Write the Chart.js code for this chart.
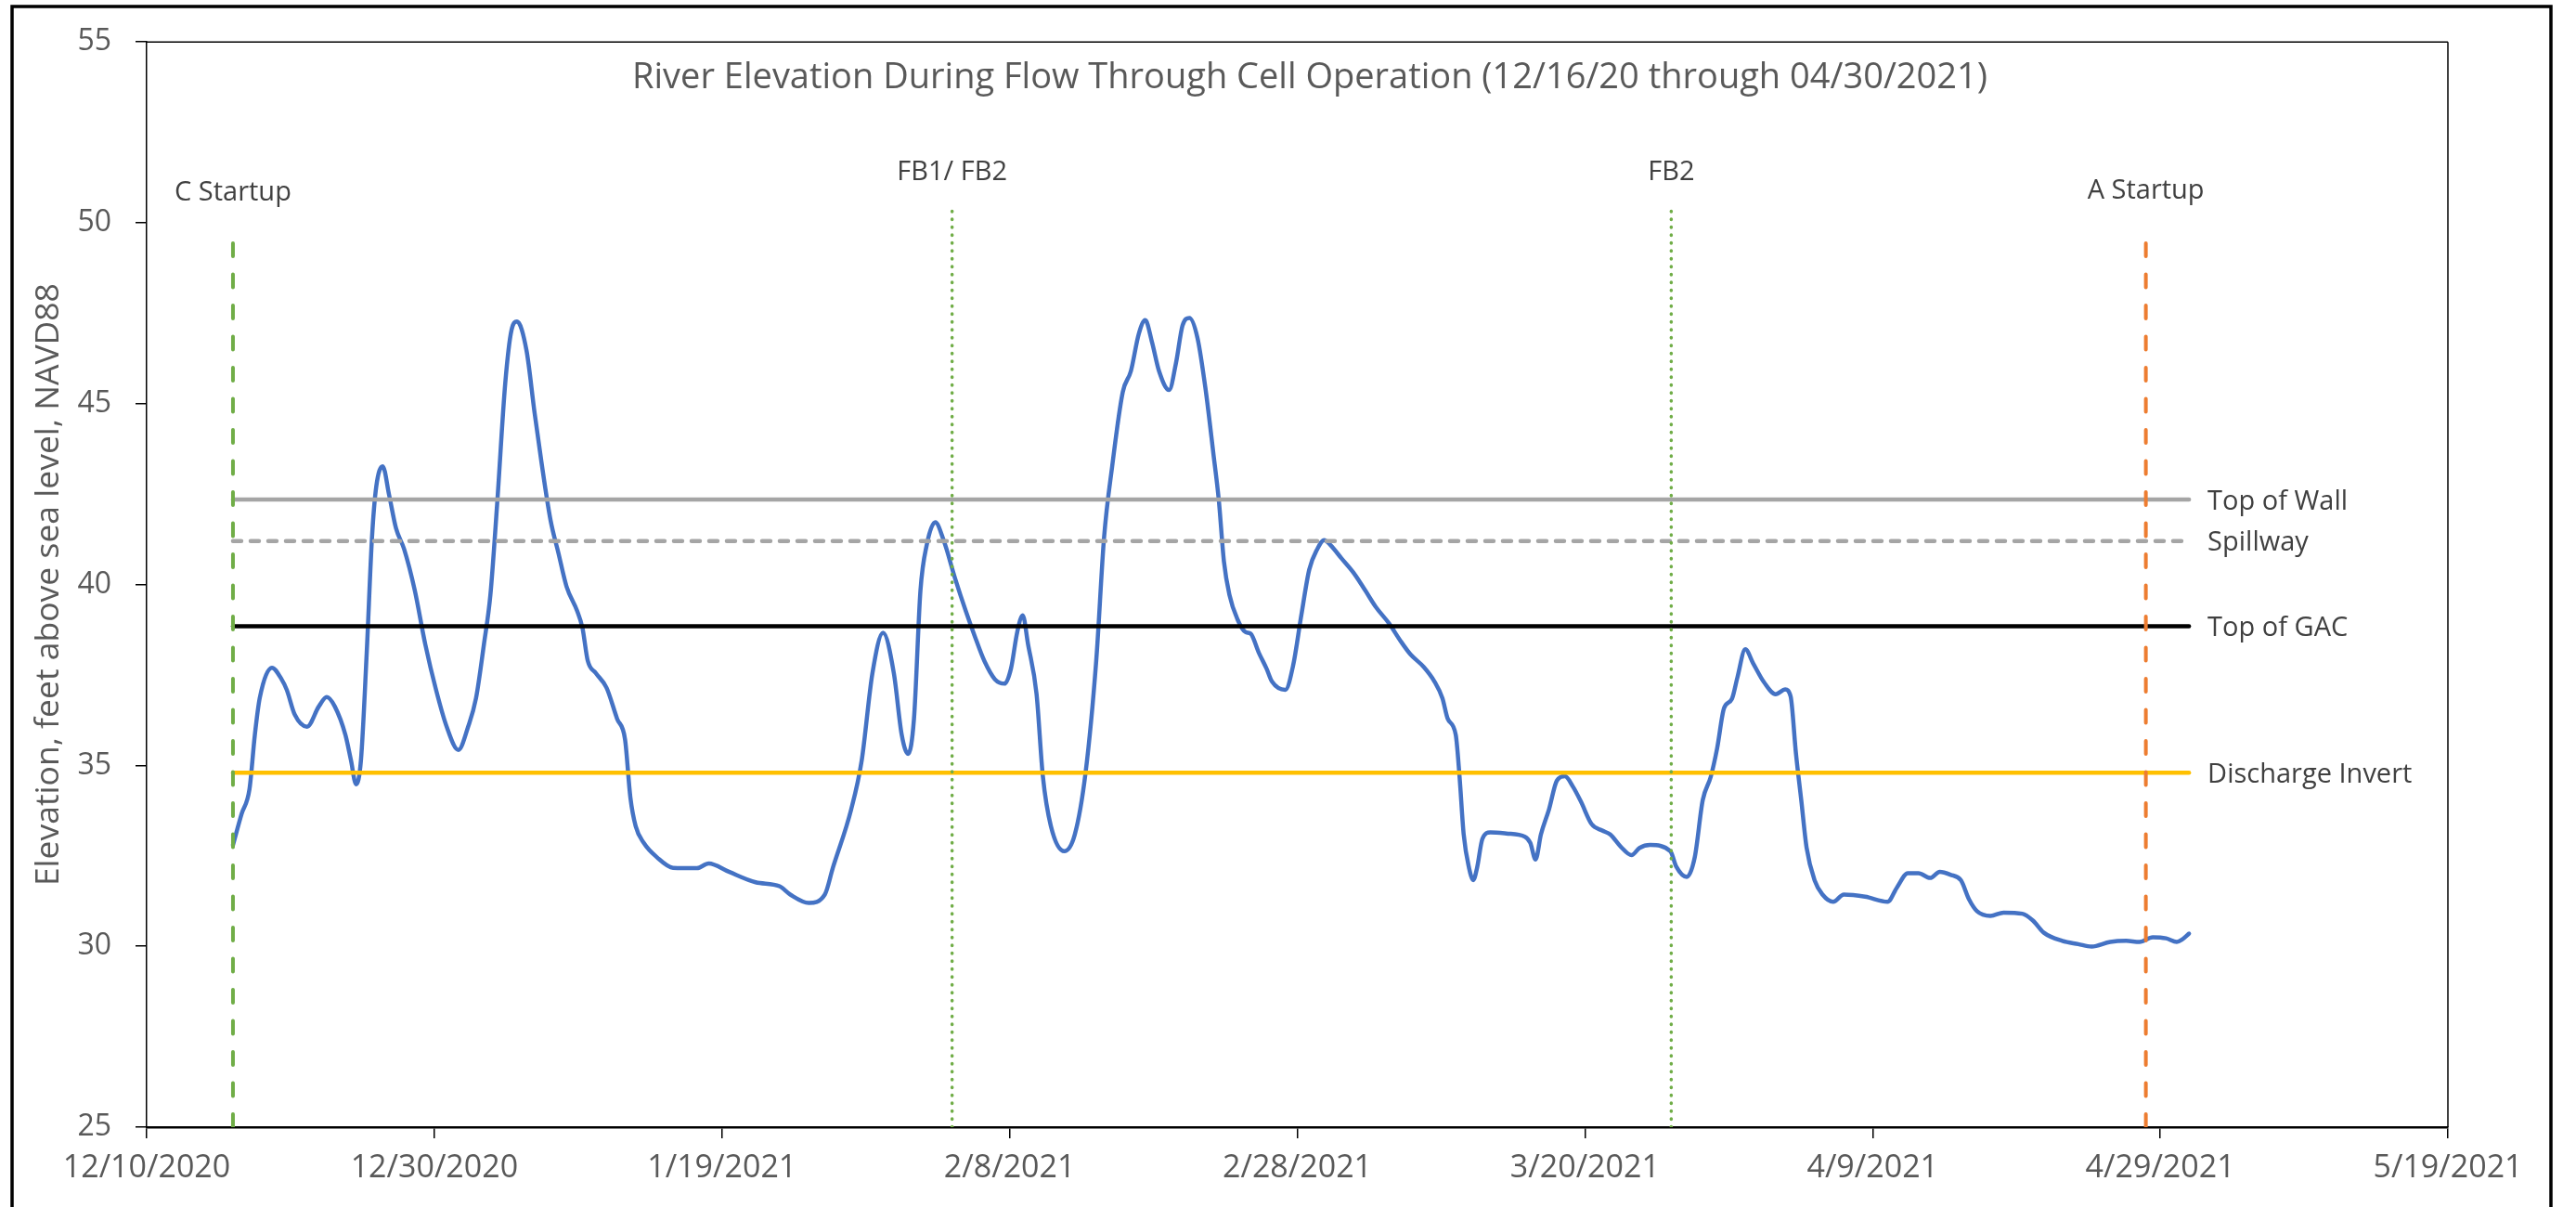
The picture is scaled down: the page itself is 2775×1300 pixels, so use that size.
<!DOCTYPE html>
<html>
<head>
<meta charset="utf-8">
<title>River Elevation During Flow Through Cell Operation</title>
<script src="https://cdn.jsdelivr.net/npm/chart.js@4.4.1/dist/chart.umd.min.js"></script>
<style>
  html, body { margin: 0; padding: 0; background: #fff; }
  #wrap { width: 2775px; height: 1300px; }
</style>
</head>
<body>
<div id="wrap"><canvas id="riverChart" width="2775" height="1300"></canvas></div>
<script>
// day offsets are counted from 12/10/2020 (the first x tick)
const dayOffsets = [
    6.0, 6.6, 7.15, 7.52, 7.86, 8.71, 9.38, 9.74, 10.3, 11.15, 11.97, 12.52, 13.08, 13.82, 14.2, 14.56, 14.9,
    15.3, 15.67, 15.96, 16.41, 16.86, 17.34, 17.9, 18.64, 19.37, 20.12, 20.86, 21.67, 22.35, 22.9, 23.45, 23.9,
    24.37, 24.93, 25.37, 25.75, 26.41, 26.97, 27.45, 28.08, 28.63, 29.19, 29.93, 30.3, 30.67, 31.23, 31.97,
    32.71, 33.26, 33.63, 34.0, 34.56, 35.48, 36.6, 38.26, 39.08, 40.48, 42.34, 44.0, 44.75, 46.04, 47.15, 47.71,
    48.98, 49.72, 50.46, 51.2, 51.95, 52.5, 52.94, 53.35, 53.8, 54.24, 54.83, 55.43, 56.2, 56.95, 57.57, 58.24,
    58.98, 59.65, 60.09, 60.53, 60.91, 61.28, 61.87, 62.31, 62.87, 63.8, 64.53, 65.28, 66.02, 66.57, 67.13,
    67.87, 68.43, 68.98, 69.43, 69.9, 70.39, 71.09, 71.57, 72.02, 72.5, 73.06, 73.61, 74.17, 74.54, 74.9, 75.28,
    75.84, 76.39, 76.76, 77.32, 77.87, 78.24, 79.17, 79.72, 80.28, 80.83, 81.39, 81.87, 82.31, 83.06, 83.98,
    84.72, 85.46, 86.39, 87.13, 87.87, 88.8, 89.54, 90.09, 90.46, 91.02, 91.28, 91.57, 91.94, 92.24, 92.5,
    92.87, 93.42, 94.54, 95.83, 96.2, 96.57, 96.94, 97.5, 98.05, 98.61, 99.17, 99.72, 100.46, 101.2, 101.76,
    102.5, 103.24, 103.8, 104.54, 105.94, 106.34, 107.08, 107.64, 108.19, 108.75, 109.19, 109.67, 110.22,
    110.6, 111.15, 111.7, 112.45, 113.26, 113.93, 114.3, 114.67, 115.04, 115.41, 115.97, 116.52, 117.26, 118.0,
    119.48, 121.04, 121.7, 122.45, 123.19, 124.0, 124.67, 125.41, 126.15, 126.7, 127.26, 128.19, 129.11,
    130.41, 131.15, 131.89, 133.19, 134.3, 135.23, 136.52, 137.63, 138.56, 139.48, 140.41, 141.15, 141.5, 142.0
];
const elevations = [
    32.8, 33.66, 34.35, 35.84, 36.86, 37.7, 37.38, 37.09, 36.4, 36.07, 36.63, 36.89, 36.63, 35.84, 35.15, 34.48, 35.15,
    38.12, 41.32, 42.7, 43.27, 42.47, 41.55, 40.98, 39.84, 38.35, 37.09, 36.07, 35.43, 36.07, 36.86, 38.35, 39.72,
    42.24, 45.56, 47.04, 47.27, 46.47, 44.75, 43.38, 41.78, 40.87, 39.95, 39.27, 38.8, 37.89, 37.55, 37.15,
    36.29, 35.72, 34.12, 33.32, 32.86, 32.46, 32.17, 32.16, 32.29, 32.06, 31.77, 31.66, 31.43, 31.2, 31.43, 32.17,
    33.78, 35.15, 37.55, 38.67, 37.55, 35.84, 35.32, 36.29, 39.84, 41.1, 41.72, 41.2, 40.18, 39.27, 38.58, 37.89,
    37.38, 37.26, 37.67, 38.69, 39.15, 38.35, 36.98, 34.7, 33.32, 32.63, 33.09, 34.8, 37.89, 41.32, 43.27,
    45.33, 45.9, 46.93, 47.31, 46.7, 45.9, 45.38, 46.13, 47.16, 47.37, 46.82, 45.44, 43.61, 42.35, 40.64, 39.72,
    39.04, 38.69, 38.64, 38.12, 37.67, 37.32, 37.09, 37.78, 39.15, 40.41, 40.98, 41.23, 41.09, 40.73, 40.29,
    39.84, 39.38, 38.92, 38.47, 38.07, 37.72, 37.32, 36.86, 36.29, 35.84, 34.7, 33.09, 32.17, 31.83, 32.17,
    32.97, 33.15, 33.12, 33.03, 32.86, 32.4, 33.09, 33.78, 34.58, 34.7, 34.41, 34.0, 33.38, 33.2, 33.09,
    32.75, 32.52, 32.72, 32.8, 32.63, 32.21, 31.92, 32.47, 34.04, 34.69, 35.47, 36.58, 36.84,
    37.43, 38.21, 37.82, 37.3, 36.97, 37.1, 36.91, 35.34, 34.04, 32.73, 31.82, 31.43, 31.23, 31.43,
    31.37, 31.23, 31.63, 32.02, 32.02, 31.89, 32.06, 31.98, 31.82, 31.3, 30.97, 30.84, 30.93,
    30.9, 30.71, 30.38, 30.15, 30.06, 29.99, 30.12, 30.15, 30.12, 30.25, 30.22, 30.12, 30.18, 30.35
];

const xTickLabels = ['12/10/2020', '12/30/2020', '1/19/2021', '2/8/2021', '2/28/2021',
    '3/20/2021', '4/9/2021', '4/29/2021', '5/19/2021'];

// reference elevations, drawn from C startup to the end of the record
const refLineNames = ['Top of Wall', 'Spillway', 'Top of GAC', 'Discharge Invert'];
const refLineLevels = [42.35, 41.2, 38.85, 34.8];
const refLineStartDay = 6;
const refLineEndDay = 142;

// operation events
const eventNames = ['C Startup', 'FB1/ FB2', 'FB2', 'A Startup'];
const eventDays = [6, 56, 106, 139];
const eventTops = [49.6, 50.5, 50.5, 49.6];

const refColors = ['#A5A5A5', '#A5A5A5', '#000000', '#FFC000'];
const refDashes = [[], [9, 10], [], []];
const eventColors = ['#70AD47', '#70AD47', '#70AD47', '#ED7D31'];
const eventDashes = [[14, 19.5], [0.5, 8], [0.5, 8], [14, 19.5]];
const eventLabelLift = [40, 27, 27, 42];

const FONT = "'Open Sans', 'Noto Sans', sans-serif";
const TEXT_GREY = '#595959';
const LABEL_GREY = '#404040';

function buildDatasets() {
    const sets = [];
    sets.push({
        label: 'River Elevation',
        data: dayOffsets.map((d, i) => ({ x: d, y: elevations[i] })),
        borderColor: '#4472C4',
        borderWidth: 4.5,
        pointRadius: 0,
        cubicInterpolationMode: 'monotone',
        borderCapStyle: 'round',
        borderJoinStyle: 'round',
        order: 10
    });
    refLineLevels.forEach((lvl, i) => {
        sets.push({
            label: refLineNames[i],
            data: [{ x: refLineStartDay, y: lvl }, { x: refLineEndDay, y: lvl }],
            borderColor: refColors[i],
            borderDash: refDashes[i],
            borderCapStyle: 'round',
            borderWidth: 4.5,
            pointRadius: 0,
            order: 5
        });
    });
    eventDays.forEach((d, i) => {
        sets.push({
            label: eventNames[i],
            data: [{ x: d, y: 25 }, { x: d, y: eventTops[i] }],
            borderColor: eventColors[i],
            borderDash: eventDashes[i],
            borderCapStyle: 'round',
            borderWidth: i === 1 || i === 2 ? 3.5 : 4,
            pointRadius: 0,
            order: 1
        });
    });
    return sets;
}

const decorations = {
    id: 'decorations',
    beforeDraw(chart) {
        const ctx = chart.ctx;
        ctx.save();
        ctx.fillStyle = '#ffffff';
        ctx.fillRect(0, 0, chart.width, chart.height);
        ctx.restore();
    },
    afterDraw(chart) {
        const ctx = chart.ctx;
        const area = chart.chartArea;
        const xs = chart.scales.x;
        const ys = chart.scales.y;
        ctx.save();

        // outer frame
        ctx.strokeStyle = '#000';
        ctx.lineWidth = 3.5;
        ctx.strokeRect(13, 7, 2735, 1320);

        // plot frame: top and right edges
        ctx.lineWidth = 1.5;
        ctx.beginPath();
        ctx.moveTo(area.left, area.top);
        ctx.lineTo(area.right, area.top);
        ctx.moveTo(area.right, area.top);
        ctx.lineTo(area.right, area.bottom);
        ctx.stroke();

        // title
        ctx.fillStyle = TEXT_GREY;
        ctx.font = '38px ' + FONT;
        ctx.textAlign = 'center';
        ctx.textBaseline = 'alphabetic';
        ctx.fillText('River Elevation During Flow Through Cell Operation (12/16/20 through 04/30/2021)', 1411, 95);

        // y axis title, centred on the plot area
        ctx.save();
        ctx.translate(63, (area.top + area.bottom) / 2);
        ctx.rotate(-Math.PI / 2);
        ctx.font = '35.5px ' + FONT;
        ctx.fillText('Elevation, feet above sea level, NAVD88', 0, 0);
        ctx.restore();

        // reference line labels at the right end
        ctx.fillStyle = LABEL_GREY;
        ctx.font = '29px ' + FONT;
        ctx.textAlign = 'left';
        refLineLevels.forEach((lvl, i) => {
            ctx.fillText(refLineNames[i], xs.getPixelForValue(refLineEndDay) + 20, ys.getPixelForValue(lvl) + 10.5);
        });

        // event labels above each vertical line
        ctx.textAlign = 'center';
        eventDays.forEach((d, i) => {
            ctx.fillText(eventNames[i], xs.getPixelForValue(d), ys.getPixelForValue(eventTops[i]) - eventLabelLift[i]);
        });
        ctx.restore();
    }
};

const riverCanvas = document.getElementById('riverChart').getContext('2d');
new Chart(riverCanvas, {
    type: 'line',
    data: { datasets: buildDatasets() },
    options: {
        responsive: false,
        animation: false,
        events: [],
        layout: { padding: { left: 0, top: 43, right: 138, bottom: 0 } },
        plugins: {
            legend: { display: false },
            title: { display: false },
            tooltip: { enabled: false }
        },
        scales: {
            x: {
                type: 'linear',
                min: 0,
                max: 160,
                afterFit: (scale) => { scale.height = 86; },
                ticks: {
                    stepSize: 20,
                    padding: 12,
                    color: TEXT_GREY,
                    font: { family: FONT, size: 34 },
                    maxRotation: 0,
                    callback: (value, index) => xTickLabels[index]
                },
                grid: { drawOnChartArea: false, drawTicks: true, tickLength: 12, color: '#000', lineWidth: 1.5 },
                border: { display: true, color: '#000', width: 2.5 }
            },
            y: {
                min: 25,
                max: 55,
                afterFit: (scale) => { scale.width = 158; },
                ticks: {
                    stepSize: 5,
                    padding: 26,
                    color: TEXT_GREY,
                    font: { family: FONT, size: 32 }
                },
                grid: { drawOnChartArea: false, drawTicks: true, tickLength: 12, color: '#000', lineWidth: 1.5 },
                border: { display: true, color: '#000', width: 1.5 }
            }
        }
    },
    plugins: [decorations]
});
</script>
</body>
</html>
